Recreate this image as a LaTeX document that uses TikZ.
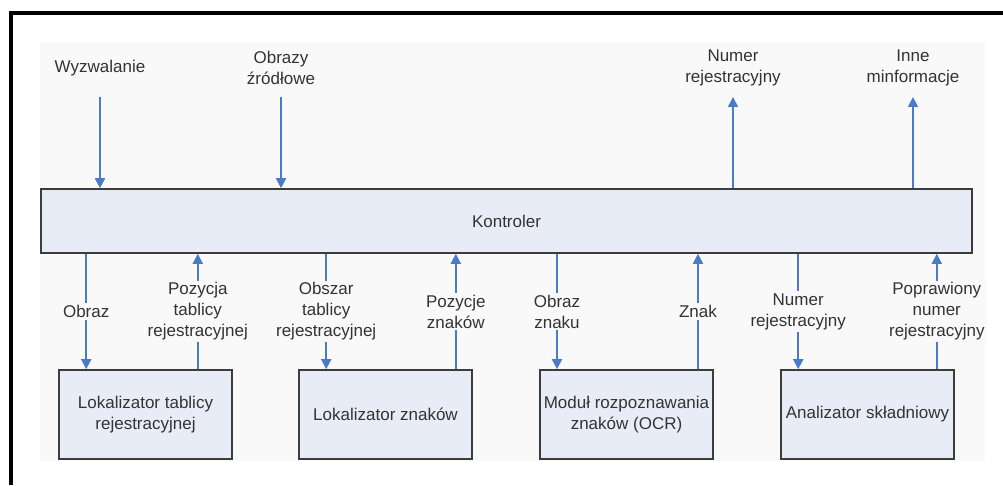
\documentclass[tikz,border=0pt]{standalone}
\usepackage{fontspec}
\setmainfont{Liberation Sans}
\usetikzlibrary{arrows.meta, positioning, backgrounds}
\definecolor{colArrow}{HTML}{4A7BC8}
\definecolor{colFill}{HTML}{E8ECF6}
\definecolor{colEdge}{HTML}{3C3C3C}
\definecolor{colText}{HTML}{333333}
\definecolor{colBg}{HTML}{F9F9F9}
\newcommand{\lblfont}{\fontsize{17}{21}\selectfont}
\tikzset{
  % Controller bar
  ctrlbox/.style={
    draw=colEdge, line width=1.6pt, fill=colFill,
    minimum width=931pt, minimum height=64pt,
    font=\lblfont, text=colText,
  },
  % Module boxes (bottom row)
  modbox/.style={
    draw=colEdge, line width=1.6pt, fill=colFill,
    align=center, inner sep=4pt,
    minimum width=173pt, minimum height=89pt,
    font=\lblfont, text=colText,
  },
  % Labels
  lbl/.style={font=\lblfont, text=colText, align=center, fill=colBg, inner sep=2pt},
  iolbl/.style={font=\lblfont, text=colText, align=center},
  % Arrows
  arr/.style={-{Triangle[length=10pt,width=10pt]}, line width=1.8pt, colArrow},
}

\begin{document}
\begin{tikzpicture}[x=1pt, y=1pt]

\useasboundingbox (0,0) rectangle (1003,485);

%% frame and background
\fill[colBg] (40,24) rectangle (985,443);
\draw[line width=4pt, black] (10.5,0) -- (10.5,472) -- (1003,472);

%% controller
\node[ctrlbox] (ctrl) at (506.5,264) {Kontroler};

%% modules
\node[modbox] (loc1) at (145.5,70.5) {Lokalizator tablicy\\rejestracyjnej};
\node[modbox] (loc2) at (385.5,70.5) {Lokalizator znaków};
\node[modbox] (ocr)  at (626.5,70.5) {Moduł rozpoznawania\\znaków (OCR)};
\node[modbox] (pars) at (867.5,70.5) {Analizator składniowy};

%% inputs / outputs at the top
\coordinate (topY) at (0,388);
\node[iolbl] (trig)   at (100,417) {Wyzwalanie};
\node[iolbl] (src)    at (281,417) {Obrazy\\źródłowe};
\node[iolbl] (numOut) at (733,417) {Numer\\rejestracyjny};
\node[iolbl] (other)  at (913,417) {Inne\\minformacje};

\draw[arr] (trig |- topY) -- (trig |- ctrl.north);
\draw[arr] (src |- topY) -- (src |- ctrl.north);
\draw[arr] (numOut |- ctrl.north) -- (numOut |- topY);
\draw[arr] (other |- ctrl.north) -- (other |- topY);

%% controller <-> modules
\draw[arr] ([xshift=28pt]loc1.north west |- ctrl.south) -- node[lbl] {Obraz} ([xshift=28pt]loc1.north west);
\draw[arr] ([xshift=-35pt]loc1.north east) -- node[lbl] {Pozycja\\tablicy\\rejestracyjnej} ([xshift=-35pt]loc1.north east |- ctrl.south);

\draw[arr] ([xshift=28pt]loc2.north west |- ctrl.south) -- node[lbl] {Obszar\\tablicy\\rejestracyjnej} ([xshift=28pt]loc2.north west);
\draw[arr] ([xshift=-17pt]loc2.north east) -- node[lbl] {Pozycje\\znaków} ([xshift=-17pt]loc2.north east |- ctrl.south);

\draw[arr] ([xshift=18pt]ocr.north west |- ctrl.south) -- node[lbl] {Obraz\\znaku} ([xshift=18pt]ocr.north west);
\draw[arr] ([xshift=-16pt]ocr.north east) -- node[lbl] {Znak} ([xshift=-16pt]ocr.north east |- ctrl.south);

\draw[arr] ([xshift=18pt]pars.north west |- ctrl.south) -- node[lbl] {Numer\\rejestracyjny} ([xshift=18pt]pars.north west);
\draw[arr] ([xshift=-18pt]pars.north east) -- node[lbl] {Poprawiony\\numer\\rejestracyjny} ([xshift=-18pt]pars.north east |- ctrl.south);

\end{tikzpicture}
\end{document}
